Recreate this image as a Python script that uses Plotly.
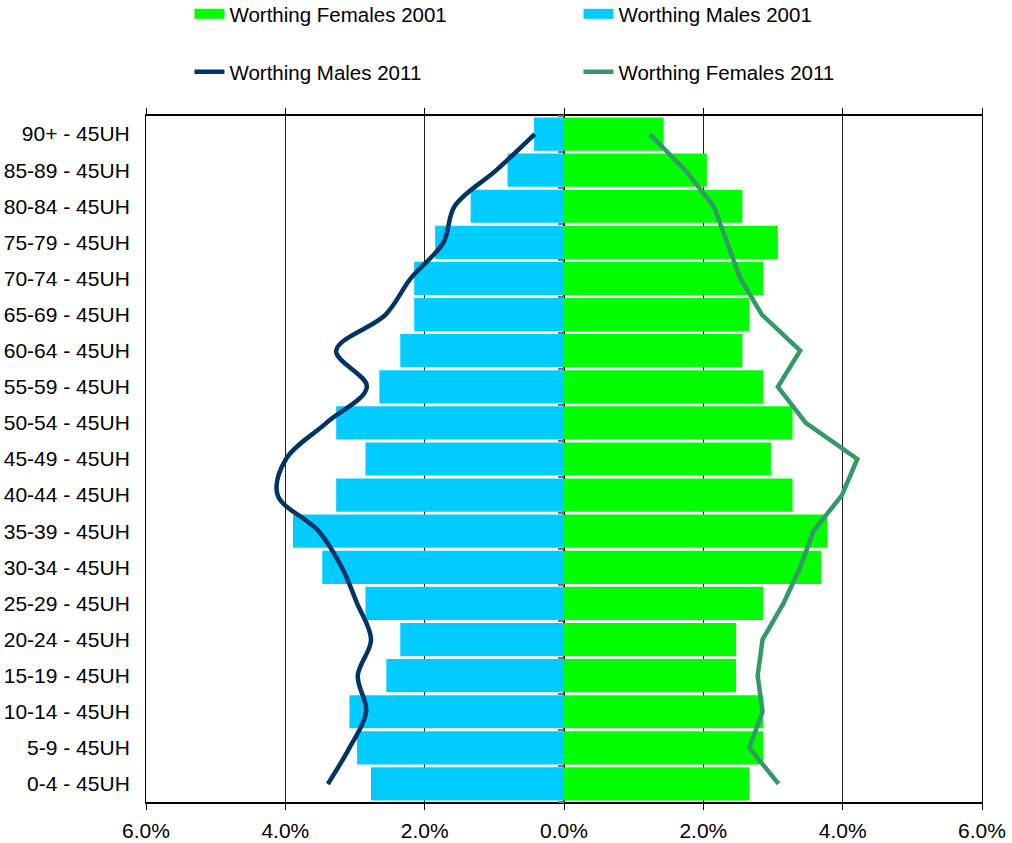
import plotly.graph_objects as go

categories = ["0-4 - 45UH", "5-9 - 45UH", "10-14 - 45UH", "15-19 - 45UH", "20-24 - 45UH",
              "25-29 - 45UH", "30-34 - 45UH", "35-39 - 45UH", "40-44 - 45UH", "45-49 - 45UH",
              "50-54 - 45UH", "55-59 - 45UH", "60-64 - 45UH", "65-69 - 45UH", "70-74 - 45UH",
              "75-79 - 45UH", "80-84 - 45UH", "85-89 - 45UH", "90+ - 45UH"]

males_2001 = [2.77, 2.97, 3.08, 2.55, 2.35, 2.85, 3.47, 3.89, 3.27, 2.85,
              3.27, 2.65, 2.35, 2.15, 2.15, 1.85, 1.34, 0.81, 0.43]
females_2001 = [2.66, 2.86, 2.86, 2.47, 2.47, 2.86, 3.69, 3.78, 3.28, 2.97,
                3.28, 2.86, 2.56, 2.66, 2.86, 3.07, 2.56, 2.05, 1.43]
males_2011 = [3.39, 3.08, 2.84, 2.96, 2.77, 2.97, 3.19, 3.52, 4.11, 3.99,
              3.41, 2.83, 3.27, 2.56, 2.20, 1.73, 1.57, 0.97, 0.42]
females_2011 = [3.08, 2.66, 2.85, 2.78, 2.85, 3.15, 3.39, 3.58, 3.99, 4.21,
                3.47, 3.07, 3.39, 2.84, 2.53, 2.34, 2.15, 1.74, 1.23]

tick_vals = [-6, -4, -2, 0, 2, 4, 6]
tick_text = ["6.0%", "4.0%", "2.0%", "0.0%", "2.0%", "4.0%", "6.0%"]

FONT = "Liberation Sans, Arial, sans-serif"
GREEN, CYAN, NAVY, SEA = "#00FF00", "#00CCFF", "#003366", "#339966"

fig = go.Figure()
fig.add_trace(go.Bar(name="Worthing Females 2001", y=categories, x=females_2001,
                     orientation="h", marker=dict(color=GREEN, line=dict(width=0)),
                     showlegend=False))
fig.add_trace(go.Bar(name="Worthing Males 2001", y=categories, x=[-v for v in males_2001],
                     orientation="h", marker=dict(color=CYAN, line=dict(width=0)),
                     showlegend=False))
fig.add_trace(go.Scatter(name="Worthing Males 2011", y=categories, x=[-v for v in males_2011],
                         mode="lines", line=dict(color=NAVY, width=4.5, shape="spline", smoothing=1.0),
                         legend="legend2"))
fig.add_trace(go.Scatter(name="Worthing Females 2011", y=categories, x=females_2011,
                         mode="lines", line=dict(color=SEA, width=4.5),
                         legend="legend2"))
# legend swatches for the bar series (wide rectangles like the original)
fig.add_trace(go.Scatter(name="Worthing Females 2001", x=[None], y=[None], mode="lines",
                         line=dict(color=GREEN, width=13), legend="legend", hoverinfo="skip"))
fig.add_trace(go.Scatter(name="Worthing Males 2001", x=[None], y=[None], mode="lines",
                         line=dict(color=CYAN, width=13), legend="legend", hoverinfo="skip"))
# helper trace for the centre axis ticks
fig.add_trace(go.Scatter(y=categories, x=[0] * len(categories), yaxis="y2", mode="lines",
                         line=dict(width=0, color="rgba(0,0,0,0)"), showlegend=False, hoverinfo="skip"))

fig.update_layout(
    width=1012, height=843,
    margin=dict(l=146, r=30, t=116, b=41, autoexpand=False),
    paper_bgcolor="white", plot_bgcolor="white",
    font=dict(family=FONT, size=20, color="black"),
    barmode="overlay", bargap=0.08,
    xaxis=dict(range=[-6, 6], tickvals=tick_vals, ticktext=tick_text,
               showgrid=True, gridcolor="#222222", gridwidth=1,
               zeroline=True, zerolinecolor="black", zerolinewidth=1.5,
               showline=True, linecolor="black", linewidth=1.5, mirror="ticks",
               ticks="outside", ticklen=6, tickcolor="black", tickfont=dict(size=21),
               ticklabelstandoff=3, automargin=False),
    yaxis=dict(type="category", categoryorder="array", categoryarray=categories,
               range=[-0.5, 18.5], showgrid=False, showline=True, linecolor="black",
               linewidth=1, mirror=True, ticks="", ticklabelstandoff=11,
               tickfont=dict(size=21), automargin=False),
    yaxis2=dict(type="category", categoryorder="array", categoryarray=categories,
                range=[-0.5, 18.5], overlaying="y", anchor="free", position=0.5,
                side="left", showgrid=False, showline=False, showticklabels=False,
                ticks="outside", tickson="boundaries", ticklen=6, tickcolor="#777777",
                tickwidth=2, layer="above traces"),
    legend=dict(orientation="h", x=0.052, xanchor="left", y=1.1487, yanchor="middle",
                entrywidth=344, entrywidthmode="pixels", font=dict(size=20.5),
                bgcolor="rgba(0,0,0,0)", traceorder="normal"),
    legend2=dict(orientation="h", x=0.052, xanchor="left", y=1.0641, yanchor="middle",
                 entrywidth=344, entrywidthmode="pixels", font=dict(size=20.5),
                 bgcolor="rgba(0,0,0,0)", traceorder="normal"),
    showlegend=True,
)

fig.write_html("out.html", config={"displayModeBar": False},
               post_script="document.body.style.margin='0';")
